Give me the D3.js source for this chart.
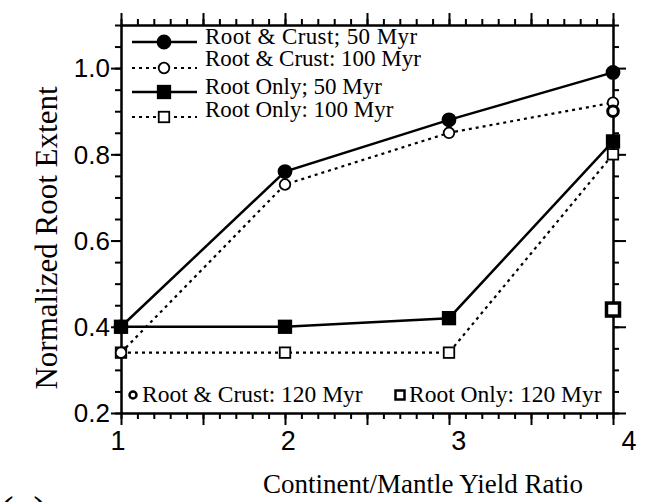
<!DOCTYPE html>
<html>
<head>
<meta charset="utf-8">
<script src="https://cdn.jsdelivr.net/npm/d3@7"></script>
<style>
  body { margin: 0; background: #fff; }
  svg { display: block; }
  .serif { font-family: "Liberation Serif", "Times New Roman", serif; }
  .sans { font-family: "Liberation Sans", Arial, sans-serif; }
</style>
</head>
<body>
<div id="chart"></div>
<script>
// yield ratio values on the x axis
let ratios = [1, 2, 3, 4]
let xTickLabels = ['1', '2', '3', '4']
let yTickLabels = ['0.2', '0.4', '0.6', '0.8', '1.0']

// series values
let rootCrust50 = [0.40, 0.76, 0.88, 0.99]
let rootCrust100 = [0.34, 0.73, 0.85, 0.92]
let rootOnly50 = [0.40, 0.40, 0.42, 0.83]
let rootOnly100 = [0.34, 0.34, 0.34, 0.80]
// single points at ratio 4
let rootCrust120 = [0.90]
let rootOnly120 = [0.44]

let seriesNames = ['Root & Crust; 50 Myr', 'Root & Crust: 100 Myr', 'Root Only; 50 Myr', 'Root Only: 100 Myr']
let extraNames = ['Root & Crust: 120 Myr', 'Root Only: 120 Myr']

window.onload = function () {
  let width = 646
  let height = 502
  let left = 121, right = 613, top = 25, bottom = 413

  let svg = d3.select('#chart').append('svg')
    .attr('width', width)
    .attr('height', height)

  let x = d3.scaleLinear().domain([1, 4]).range([left, right])
  let y = d3.scaleLinear().domain([0.2, 1.1]).range([bottom, top])
  // the printed labels sit a little wider apart than the ticks
  let xLab = d3.scaleLinear().domain([1, 4]).range([118, 629])

  let xMinor = d3.range(10, 41).map(d => d / 10)
  let xMajor = d3.range(2, 9).map(d => d / 2)
  let yMinor = d3.range(4, 23).map(d => d / 20)
  let yMajor = [0.2, 0.4, 0.6, 0.8, 1.0]

  function styleAxis (g) {
    g.selectAll('path').attr('stroke', '#000').attr('stroke-width', 2)
    g.selectAll('line').attr('stroke', '#000').attr('stroke-width', 2)
    g.selectAll('text').remove()
  }

  // frame with outward ticks on all four sides
  let axes = [
    [d3.axisBottom(x), 'translate(0,' + bottom + ')', xMinor, xMajor, 12],
    [d3.axisTop(x), 'translate(0,' + top + ')', xMinor, xMajor, 12],
    [d3.axisLeft(y), 'translate(' + left + ',0)', yMinor, yMajor, 10],
    [d3.axisRight(y), 'translate(' + right + ',0)', yMinor, yMajor, 13]
  ]
  axes.forEach(function (a) {
    svg.append('g').attr('transform', a[1])
      .call(a[0].tickValues(a[2]).tickSize(6).tickSizeOuter(0))
      .call(styleAxis)
    svg.append('g').attr('transform', a[1])
      .call(a[0].tickValues(a[3]).tickSize(a[4]).tickSizeOuter(0))
      .call(styleAxis)
  })

  // tick labels
  svg.selectAll('text.xlab')
    .data(ratios)
    .enter().append('text')
    .attr('class', 'sans')
    .attr('x', d => xLab(d))
    .attr('y', 450)
    .attr('text-anchor', 'middle')
    .attr('font-size', 27)
    .text((d, i) => xTickLabels[i])

  svg.selectAll('text.ylab')
    .data(yMajor)
    .enter().append('text')
    .attr('class', 'sans')
    .attr('x', 110)
    .attr('y', d => y(d))
    .attr('dy', '0.36em')
    .attr('text-anchor', 'end')
    .attr('font-size', 26)
    .text((d, i) => yTickLabels[i])

  // axis titles
  svg.append('text')
    .attr('class', 'serif')
    .attr('x', 423)
    .attr('y', 493)
    .attr('text-anchor', 'middle')
    .attr('font-size', 27)
    .text('Continent/Mantle Yield Ratio')

  svg.append('text')
    .attr('class', 'serif')
    .attr('transform', 'translate(57,238) rotate(-90)')
    .attr('text-anchor', 'middle')
    .attr('font-size', 31)
    .text('Normalized Root Extent')

  svg.append('text')
    .attr('class', 'serif')
    .attr('x', -1)
    .attr('y', 527)
    .attr('font-size', 44)
    .text('(a)')

  // lines
  let series = [
    { vals: rootCrust50, dash: null, mark: 'circle', fill: '#000' },
    { vals: rootCrust100, dash: '3,4', mark: 'circle', fill: '#fff' },
    { vals: rootOnly50, dash: null, mark: 'square', fill: '#000' },
    { vals: rootOnly100, dash: '3,4', mark: 'square', fill: '#fff' }
  ]

  let line = d3.line()
    .x((d, i) => x(ratios[i]))
    .y(d => y(d))

  // dashed ones first, solid ones on top
  let order = [3, 1, 2, 0]
  order.forEach(function (k) {
    let s = series[k]
    svg.append('path')
      .datum(s.vals)
      .attr('fill', 'none')
      .attr('stroke', '#000')
      .attr('stroke-width', s.dash ? 2.2 : 2.5)
      .attr('stroke-dasharray', s.dash)
      .attr('d', line)
  })

  function drawMark (g, mark, fill, cx, cy, big) {
    if (mark === 'circle') {
      g.append('circle')
        .attr('cx', cx).attr('cy', cy)
        .attr('r', fill === '#000' ? 6.5 : 5.3)
        .attr('fill', fill)
        .attr('stroke', '#000')
        .attr('stroke-width', big ? 3 : 1.8)
    } else {
      let s = fill === '#000' ? 12.5 : 10.5
      if (big) s = 13
      g.append('rect')
        .attr('x', cx - s / 2).attr('y', cy - s / 2)
        .attr('width', s).attr('height', s)
        .attr('fill', fill)
        .attr('stroke', '#000')
        .attr('stroke-width', big ? 3.5 : 1.8)
    }
  }

  order.forEach(function (k) {
    let s = series[k]
    let g = svg.append('g')
    s.vals.forEach(function (v, i) {
      drawMark(g, s.mark, s.fill, x(ratios[i]), y(v), false)
    })
  })

  // 120 Myr single points
  let g120 = svg.append('g')
  rootCrust120.forEach(v => drawMark(g120, 'circle', '#fff', x(4), y(v), true))
  rootOnly120.forEach(v => drawMark(g120, 'square', '#fff', x(4), y(v), true))

  // legend
  let legY = [42, 68, 92, 117]
  let legTextY = [44, 66, 94, 117]
  let leg = svg.append('g')
  series.forEach(function (s, i) {
    leg.append('line')
      .attr('x1', 132).attr('x2', 197)
      .attr('y1', legY[i]).attr('y2', legY[i])
      .attr('stroke', '#000')
      .attr('stroke-width', s.dash ? 2.2 : 2.5)
      .attr('stroke-dasharray', s.dash)
    drawMark(leg, s.mark, s.fill, 164, legY[i], false)
    leg.append('text')
      .attr('class', 'serif')
      .attr('x', 205)
      .attr('y', legTextY[i])
      .attr('font-size', 23)
      .attr('letter-spacing', i === 0 ? 0.4 : 0)
      .text(seriesNames[i])
  })

  // bottom legend for 120 Myr points
  let leg2 = svg.append('g')
  let l2x = [133, 400]
  let marks2 = ['circle', 'square']
  extraNames.forEach(function (name, i) {
    if (marks2[i] === 'circle') {
      leg2.append('circle').attr('cx', l2x[i]).attr('cy', 395).attr('r', 3.5)
        .attr('fill', '#fff').attr('stroke', '#000').attr('stroke-width', 2.5)
    } else {
      leg2.append('rect').attr('x', l2x[i] - 4.5).attr('y', 390.5).attr('width', 9).attr('height', 9)
        .attr('fill', '#fff').attr('stroke', '#000').attr('stroke-width', 2.5)
    }
    leg2.append('text')
      .attr('class', 'serif')
      .attr('x', l2x[i] + 9)
      .attr('y', 402)
      .attr('font-size', 23.5)
      .text(name)
  })
}
</script>
</body>
</html>
